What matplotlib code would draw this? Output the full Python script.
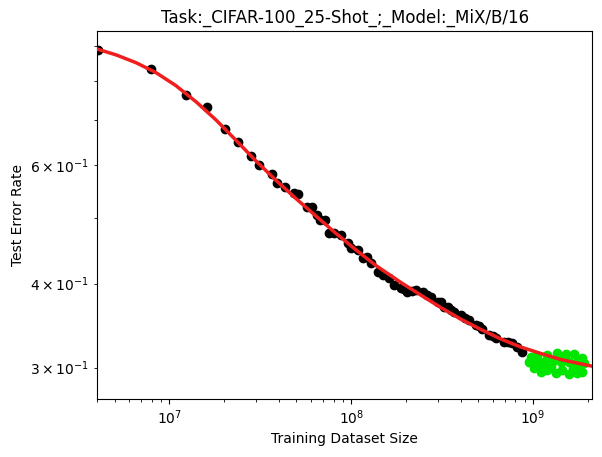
import matplotlib
matplotlib.use('Agg')
import matplotlib.pyplot as plt

# measured points (black)
train_size = [4.08e6, 7.94e6, 1.235e7, 1.61e7, 2.02e7, 2.38e7, 2.81e7, 3.1e7, 3.66e7, 3.91e7,
              4.32e7, 4.87e7, 5.12e7, 5.71e7, 6.06e7, 6.48e7, 6.76e7, 7.2e7, 7.57e7, 8.05e7,
              8.77e7, 9.55e7, 9.96e7, 1.084e8, 1.155e8, 1.22e8, 1.283e8, 1.396e8, 1.488e8, 1.618e8,
              1.723e8, 1.876e8, 1.96e8, 2.04e8, 2.15e8, 2.27e8, 2.47e8, 2.6e8, 2.74e8, 2.99e8,
              3.1e8, 3.24e8, 3.39e8, 3.55e8, 3.68e8, 4.01e8, 4.2e8, 4.45e8, 4.84e8, 5.05e8,
              5.27e8, 5.73e8, 6.0e8, 6.24e8, 6.93e8, 7.3e8, 7.71e8, 8.21e8, 8.75e8]
test_err = [0.890, 0.832, 0.762, 0.731, 0.678, 0.648, 0.619, 0.599, 0.582, 0.565,
            0.556, 0.545, 0.544, 0.520, 0.520, 0.506, 0.497, 0.497, 0.475, 0.475,
            0.472, 0.459, 0.451, 0.449, 0.436, 0.438, 0.429, 0.416, 0.412, 0.407,
            0.398, 0.394, 0.392, 0.389, 0.390, 0.391, 0.389, 0.385, 0.3825, 0.376,
            0.375, 0.3695, 0.3695, 0.366, 0.363, 0.359, 0.356, 0.353, 0.347, 0.346,
            0.343, 0.335, 0.334, 0.3316, 0.3277, 0.327, 0.326, 0.322, 0.3168]

# held-out points (green)
extrap_size = [9.71e8, 1.057e9, 1.200e9, 1.362e9, 1.512e9, 1.680e9, 1.868e9,
               9.51e8, 1.035e9, 1.149e9, 1.279e9, 1.420e9, 1.577e9, 1.754e9, 1.906e9,
               1.013e9, 1.102e9, 1.200e9, 1.333e9, 1.451e9, 1.577e9, 1.754e9, 1.868e9,
               1.08e9, 1.25e9, 1.45e9, 1.65e9, 1.80e9]
extrap_err = [0.3114, 0.3125, 0.3133, 0.3151, 0.3146, 0.3149, 0.3097,
              0.3061, 0.3044, 0.3061, 0.3061, 0.3054, 0.3054, 0.3061, 0.3044,
              0.2993, 0.2959, 0.2976, 0.2942, 0.2976, 0.2932, 0.2942, 0.2959,
              0.3010, 0.3015, 0.3090, 0.3000, 0.3000]

# fitted curve (red)
fit_size = [4.04e6, 5.10e6, 6.56e6, 8.45e6, 1.088e7, 1.402e7, 1.806e7, 2.325e7, 2.995e7,
            3.857e7, 4.969e7, 6.40e7, 8.24e7, 1.061e8, 1.367e8, 1.876e8, 2.416e8, 3.111e8,
            4.006e8, 5.159e8, 6.644e8, 8.556e8, 1.102e9, 1.420e9, 1.829e9, 2.12e9]
fit_err = [0.8914, 0.8743, 0.8514, 0.8229, 0.787, 0.745, 0.700, 0.653, 0.6085,
           0.5695, 0.5350, 0.5040, 0.4750, 0.4490, 0.4255, 0.4015, 0.3846, 0.3685,
           0.3542, 0.3420, 0.3310, 0.3220, 0.3150, 0.3085, 0.3040, 0.3015]

fig = plt.figure(figsize=(6.02, 4.57), dpi=100)
ax = fig.add_subplot(111)
fig.subplots_adjust(left=0.161, right=0.984, top=0.933, bottom=0.128)

ax.scatter(train_size, test_err, color='black', s=36, zorder=2)
ax.scatter(extrap_size, extrap_err, color='#00e600', s=36, zorder=2)
ax.plot(fit_size, fit_err, color='#f01e1e', linewidth=2.5, zorder=3)

ax.set_xscale('log')
ax.set_yscale('log')
ax.set_xlim(4.0e6, 2.12e9)
ax.set_ylim(0.27, 0.95)

ax.set_xlabel('Training Dataset Size')
ax.set_ylabel('Test Error Rate')
ax.set_title('Task:_CIFAR-100_25-Shot_;_Model:_MiX/B/16')

plt.savefig('out.png', dpi=100)
